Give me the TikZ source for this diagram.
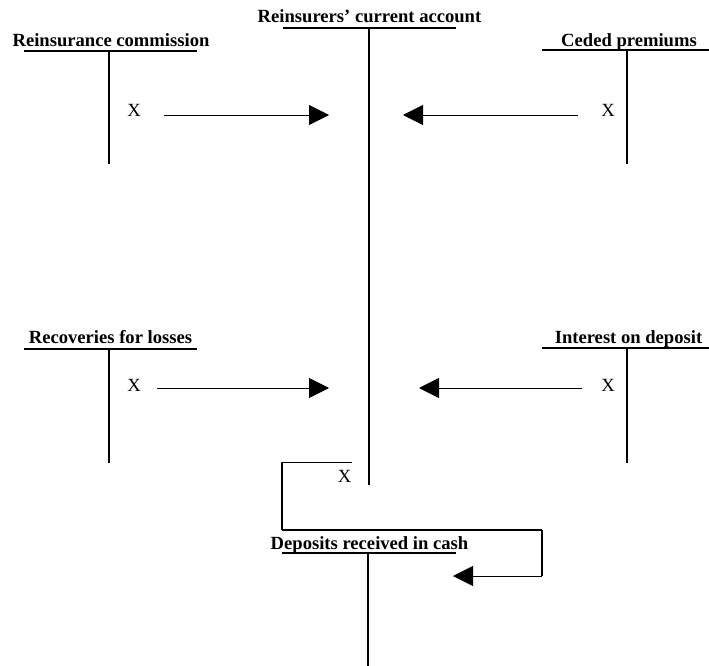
\documentclass[tikz,border=0pt]{standalone}
\usepackage{fontspec}
\setmainfont{Liberation Serif}
\usetikzlibrary{arrows.meta}
\tikzset{
  title/.style={font=\fontsize{18.6}{20}\selectfont\bfseries, inner sep=0pt, anchor=base},
  xmark/.style={font=\fontsize{18.6}{20}\selectfont, inner sep=0pt, anchor=base},
  tline/.style={line width=1.9pt},
  flow/.style={line width=0.9pt, -{Triangle[length=20pt,width=20pt]}},
  boxline/.style={line width=1.3pt}
}
\begin{document}
\begin{tikzpicture}[x=1pt,y=-1pt]
\useasboundingbox (0,0) rectangle (709,666);
% Reinsurers' current account
\node[title] (cur) at (369.5,23) {Reinsurers’ current account};
\draw[tline] (283,28) -- (456,28);
\draw[tline] (369,28) -- (369,485);
% Reinsurance commission
\node[title] (com) at (111,47) {Reinsurance commission};
\draw[tline] (24,51) -- (197,51);
\draw[tline] (109,51) -- (109,164);
\node[xmark] (xcom) at (134,117) {X};
\coordinate (comS) at (164,115);
\coordinate (comE) at (329,115);
\draw[flow] (comS) -- (comE);
% Ceded premiums
\node[title] (ced) at (629,47) {Ceded premiums};
\draw[tline] (542,50) -- (709,50);
\draw[tline] (627,50) -- (627,164);
\node[xmark] (xced) at (608,117) {X};
\coordinate (cedS) at (578,115);
\coordinate (cedE) at (403,115);
\draw[flow] (cedS) -- (cedE);
% Recoveries for losses
\node[title] (rec) at (110.5,343) {Recoveries for losses};
\draw[tline] (24,349) -- (197,349);
\draw[tline] (109,349) -- (109,463);
\node[xmark] (xrec) at (134,391) {X};
\coordinate (recS) at (157,388);
\coordinate (recE) at (329,388);
\draw[flow] (recS) -- (recE);
% Interest on deposit
\node[title] (int) at (628.5,343) {Interest on deposit};
\draw[tline] (542,348) -- (709,348);
\draw[tline] (627,348) -- (627,463);
\node[xmark] (xint) at (608,391) {X};
\coordinate (intS) at (582,388);
\coordinate (intE) at (419,388);
\draw[flow] (intS) -- (intE);
% Transfer to deposits
\node[xmark] (xdep) at (344.5,482) {X};
\coordinate (b1) at (352,462);
\coordinate (b2) at (282,462);
\coordinate (b3) at (282,530);
\coordinate (b4) at (542,530);
\coordinate (b5) at (542,576);
\coordinate (b6) at (453,576);
\draw[line width=0.9pt] (b1) -- (b2);
\draw[boxline] (b2) -- (b3);
\draw[line width=1.8pt] (b3) -- (b4);
\draw[boxline] (b4) -- (b5);
\draw[flow] (b5) -- (b6);
% Deposits received in cash
\node[title] (dep) at (369.5,549) {Deposits received in cash};
\draw[tline] (282,553) -- (456,553);
\draw[tline] (368,553) -- (368,666);
\end{tikzpicture}
\end{document}
